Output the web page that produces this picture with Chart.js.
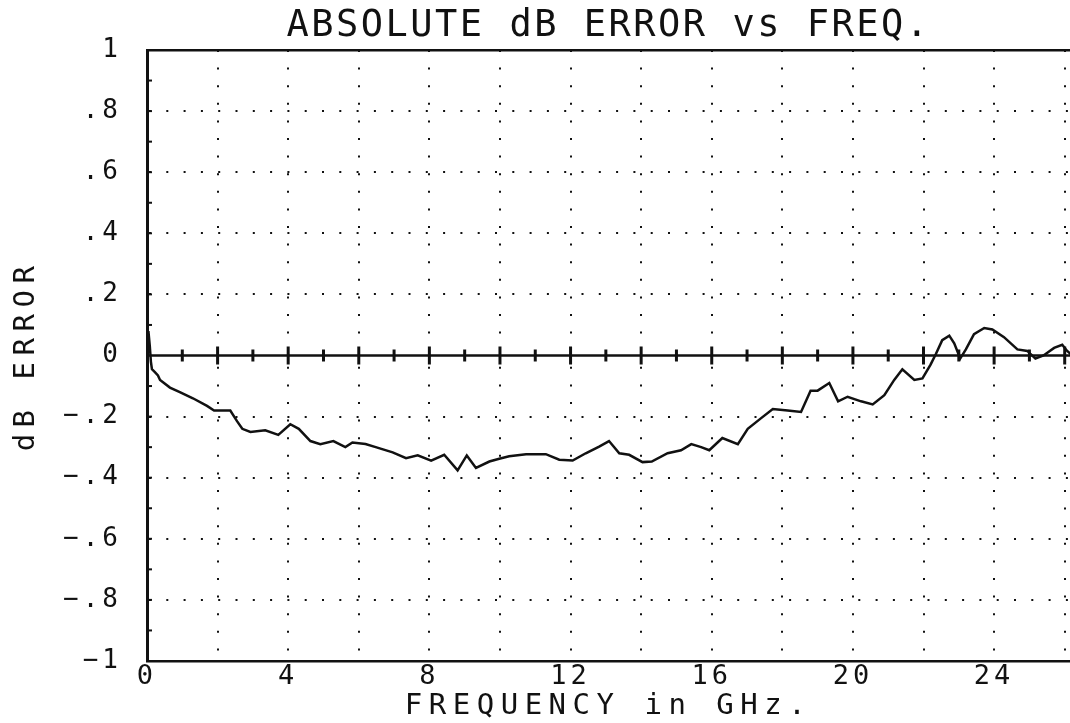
<!DOCTYPE html>
<html>
<head>
<meta charset="utf-8">
<script src="https://cdn.jsdelivr.net/npm/chart.js@4.4.1/dist/chart.umd.min.js"></script>
<style>
  html, body { margin: 0; padding: 0; background: #fff; }
  #wrap { width: 1070px; height: 723px; position: relative; }
</style>
</head>
<body>
<div id="wrap"><canvas id="c" width="1070" height="723"></canvas></div>
<script>
// ---- data ----
const freqGHz = [0.00, 0.04, 0.08, 0.11, 0.14, 0.23, 0.31, 0.37, 0.65, 0.93, 1.30, 1.70, 1.90, 2.36, 2.55, 2.70, 2.93, 3.35, 3.72, 4.06, 4.30, 4.63, 4.91, 5.28, 5.62, 5.82, 6.19, 6.48, 6.96, 7.34, 7.67, 8.05, 8.42, 8.80, 9.06, 9.32, 9.70, 9.98, 10.26, 10.74, 11.30, 11.68, 12.06, 12.43, 12.81, 13.09, 13.38, 13.66, 14.04, 14.30, 14.75, 15.13, 15.42, 15.70, 15.93, 16.30, 16.74, 17.02, 17.40, 17.73, 18.15, 18.53, 18.80, 19.00, 19.33, 19.58, 19.85, 20.23, 20.56, 20.89, 21.17, 21.40, 21.74, 21.97, 22.20, 22.35, 22.53, 22.73, 22.87, 23.04, 23.20, 23.43, 23.72, 23.95, 24.28, 24.66, 24.94, 25.17, 25.40, 25.70, 25.93, 26.07, 26.17];
const dbError = [0.02, 0.08, 0.03, -0.02, -0.045, -0.055, -0.065, -0.08, -0.105, -0.12, -0.14, -0.165, -0.18, -0.18, -0.215, -0.24, -0.25, -0.245, -0.26, -0.225, -0.24, -0.28, -0.29, -0.28, -0.30, -0.285, -0.29, -0.30, -0.317, -0.336, -0.327, -0.344, -0.325, -0.376, -0.327, -0.368, -0.347, -0.338, -0.33, -0.323, -0.323, -0.341, -0.344, -0.32, -0.298, -0.28, -0.32, -0.325, -0.349, -0.347, -0.32, -0.31, -0.29, -0.30, -0.31, -0.27, -0.29, -0.24, -0.205, -0.175, -0.18, -0.185, -0.115, -0.115, -0.09, -0.15, -0.135, -0.15, -0.16, -0.13, -0.08, -0.045, -0.08, -0.075, -0.03, 0.005, 0.05, 0.065, 0.04, -0.01, 0.02, 0.07, 0.09, 0.085, 0.06, 0.02, 0.015, -0.01, 0.0, 0.025, 0.035, 0.015, 0.005];

const xTickValues = [0, 2, 4, 6, 8, 10, 12, 14, 16, 18, 20, 22, 24, 26];
const xTickLabels = ['0', '', '4', '', '8', '', '12', '', '16', '', '20', '', '24', ''];
const yTickValues = [-1, -0.8, -0.6, -0.4, -0.2, 0, 0.2, 0.4, 0.6, 0.8, 1];
const yTickLabels = ['\u22121', '\u2212.8', '\u2212.6', '\u2212.4', '\u2212.2', '0', '.2', '.4', '.6', '.8', '1'];
const zeroLineTicks = [1, 2, 3, 4, 5, 6, 7, 8, 9, 10, 11, 12, 13, 14, 15, 16, 17, 18, 19, 20, 21, 22, 23, 24, 25, 26];
const yMinorTicks = [-0.9, -0.8, -0.7, -0.6, -0.5, -0.4, -0.3, -0.2, -0.1, 0.1, 0.2, 0.3, 0.4, 0.5, 0.6, 0.7, 0.8, 0.9];

const titleText = 'ABSOLUTE dB ERROR vs FREQ.';
const xTitle = 'FREQUENCY in GHz.';
const yTitle = 'dB ERROR';

const FONT = "'DejaVu Sans Mono', 'Liberation Mono', monospace";
const INK = '#111';

const spacing = {
  x: { labels: '4px', title: '6.5px' },
  y: { labels: '4px', title: '6.5px' },
  x2: { labels: '0px', title: '2.5px' }
};

const letterSpacingPlugin = {
  id: 'letterSpacing',
  beforeDraw(chart) {
    const ctx = chart.ctx;
    for (const id in chart.scales) {
      const s = chart.scales[id];
      if (s._lsPatched) continue;
      s._lsPatched = true;
      const sp = spacing[id] || {};
      ['drawLabels', 'drawTitle'].forEach((name, k) => {
        const val = k === 0 ? sp.labels : sp.title;
        const orig = s[name];
        s[name] = function (...a) {
          ctx.save();
          ctx.letterSpacing = val || '0px';
          orig.apply(this, a);
          ctx.restore();
        };
      });
    }
  }
};

const axisDecorPlugin = {
  id: 'axisDecor',
  beforeDatasetsDraw(chart) {
    const { ctx, chartArea } = chart;
    const xs = chart.scales.x, ys = chart.scales.y;
    const y0 = ys.getPixelForValue(0);
    ctx.save();
    ctx.strokeStyle = INK;
    ctx.lineCap = 'butt';
    // solid zero line
    ctx.lineWidth = 2.5;
    ctx.beginPath();
    ctx.moveTo(chartArea.left, y0);
    ctx.lineTo(chartArea.right, y0);
    ctx.stroke();
    // tick marks on the zero line
    ctx.lineWidth = 3;
    zeroLineTicks.forEach(v => {
      const px = xs.getPixelForValue(v);
      const h = (v % 2 === 0) ? 9 : 6;
      ctx.beginPath();
      ctx.moveTo(px, y0 - h);
      ctx.lineTo(px, y0 + h);
      ctx.stroke();
    });
    // minor ticks on the left axis
    ctx.lineWidth = 2;
    yMinorTicks.forEach(v => {
      const py = ys.getPixelForValue(v);
      ctx.beginPath();
      ctx.moveTo(chartArea.left, py);
      ctx.lineTo(chartArea.left + 5, py);
      ctx.stroke();
    });
    ctx.restore();
  }
};

new Chart(document.getElementById('c'), {
  type: 'line',
  data: {
    datasets: [{
      data: freqGHz.map((f, i) => ({ x: f, y: dbError[i] })),
      borderColor: INK,
      borderWidth: 2.5,
      pointRadius: 0,
      tension: 0,
      fill: false
    }]
  },
  options: {
    responsive: false,
    animation: false,
    events: [],
    layout: { padding: 0 },
    plugins: {
      legend: { display: false },
      title: { display: false },
      tooltip: { enabled: false }
    },
    scales: {
      x: {
        type: 'linear',
        position: 'bottom',
        min: 0,
        max: 26.15,
        afterBuildTicks: s => { s.ticks = xTickValues.map(v => ({ value: v })); },
        afterFit: s => { s.height = 62; },
        grid: { color: INK, lineWidth: 2, drawTicks: false },
        border: { display: true, color: INK, width: 2.5, dash: [2, 15.6] },
        ticks: {
          autoSkip: false, maxRotation: 0, padding: 0, color: INK,
          font: { family: FONT, size: 27 },
          callback: (v, i) => xTickLabels[i]
        },
        title: {
          display: true, text: xTitle, color: INK,
          font: { family: FONT, size: 29, lineHeight: 1 },
          padding: { top: 0, bottom: 2 }
        }
      },
      x2: {
        type: 'linear',
        position: 'top',
        min: 0,
        max: 26.15,
        afterFit: s => { s.height = 50; },
        grid: { display: false, drawTicks: false },
        border: { display: true, color: INK, width: 2.5 },
        ticks: { display: false },
        title: {
          display: true, text: titleText, color: INK,
          font: { family: FONT, size: 37, lineHeight: 1 },
          padding: { top: 8, bottom: 0 }
        }
      },
      y: {
        type: 'linear',
        position: 'left',
        min: -1,
        max: 1,
        afterBuildTicks: s => { s.ticks = yTickValues.map(v => ({ value: v })); },
        afterFit: s => { s.width = 147; },
        grid: {
          drawTicks: false, lineWidth: 2,
          color: c => (c.tick && c.tick.value === 0) ? 'rgba(0,0,0,0)' : INK
        },
        border: { display: true, color: INK, width: 3, dash: [2, 15.3] },
        ticks: {
          padding: 25, color: INK,
          font: { family: FONT, size: 26 },
          callback: (v, i) => yTickLabels[i]
        },
        title: {
          display: true, text: yTitle, color: INK,
          font: { family: FONT, size: 29, lineHeight: 1 },
          padding: { top: 12, bottom: 0 }
        }
      }
    }
  },
  plugins: [letterSpacingPlugin, axisDecorPlugin]
});
</script>
</body>
</html>
